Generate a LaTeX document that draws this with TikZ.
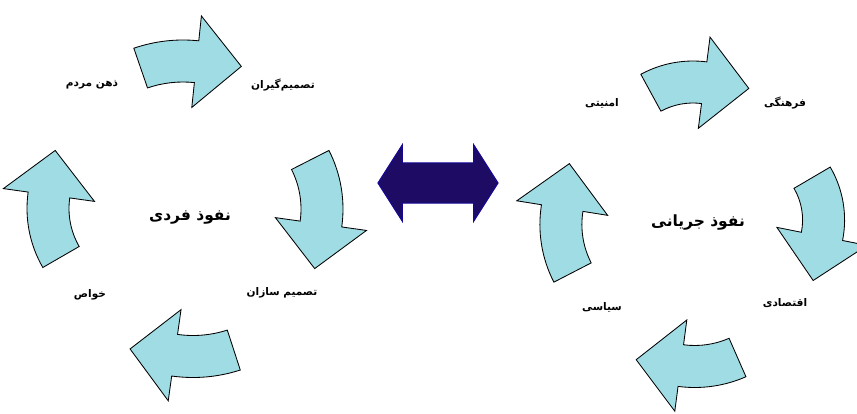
\documentclass[tikz,border=0pt]{standalone}
\usepackage{fontspec}
\newfontfamily\arabicfont[Script=Arabic]{DejaVu Sans}
\TeXXeTstate=1
\usetikzlibrary{shapes.arrows}
\definecolor{palecyan}{RGB}{160,220,228}
\definecolor{linknavy}{RGB}{30,12,100}
\tikzset{
  blockarc/.style={fill=palecyan, draw=black, line width=0.6pt, line join=miter},
  lbl/.style={font=\arabicfont\bfseries\fontsize{7.5}{9}\selectfont, inner sep=1pt},
  hub/.style={font=\arabicfont\bfseries\fontsize{11}{13}\selectfont, inner sep=1pt},
}
\newcommand{\bendarrow}[5]{%
  \draw[blockarc, shift={(#1,#2)}] ({#4}:{#3+21}) arc[start angle=#4, end angle=#5, radius={#3+21}]
    -- ({#5}:{#3+46}) -- ({#5-atan(45/#3)}:{10*sqrt((#3/10)*(#3/10)+20.25)}) -- ({#5}:{#3-46}) -- ({#5}:{#3-21})
    arc[start angle=#5, end angle=#4, radius={#3-21}] -- cycle;}
\begin{document}
\begin{tikzpicture}[x=0.025cm, y=0.025cm]
\useasboundingbox (0,0) rectangle (857,-414);
\bendarrow{183}{-191}{130}{109}{84}
\bendarrow{214}{-209}{108}{27}{-8}
\bendarrow{193}{-224.5}{132}{288}{262}
\bendarrow{145}{-208.5}{97}{210}{172}
\bendarrow{693}{-170}{88}{118.6}{82.7}
\bendarrow{740}{-220}{83.6}{30.4}{-11.3}
\bendarrow{694.7}{-260}{106.5}{293.7}{262.5}
\bendarrow{665.4}{-224.6}{104.5}{207.3}{170.9}
\node[lbl] (mind) at (92,-85) {\beginR ذهن مردم\endR};
\node[lbl] (deciders) at (283,-85) {\beginR تصمیم‌گیران\endR};
\node[hub] (personal) at (190,-218) {\beginR نفوذ فردی\endR};
\node[lbl] (elite) at (90,-295) {\beginR خواص\endR};
\node[lbl] (makers) at (282,-293) {\beginR تصمیم سازان\endR};
\node[lbl] (security) at (602,-103) {\beginR امنیتی\endR};
\node[lbl] (culture) at (785,-103) {\beginR فرهنگی\endR};
\node[hub] (stream) at (698,-223) {\beginR نفوذ جریانی\endR};
\node[lbl] (politics) at (602,-307) {\beginR سیاسی\endR};
\node[lbl] (economy) at (785,-303) {\beginR اقتصادی\endR};
\node[double arrow, fill=linknavy, draw=linknavy!70!blue, line width=0.8pt,
  inner xsep=0pt, inner ysep=0.4875cm, minimum height=3cm,
  double arrow head extend=0.45cm, double arrow tip angle=115] (link) at (438,-183) {};
\end{tikzpicture}
\end{document}
